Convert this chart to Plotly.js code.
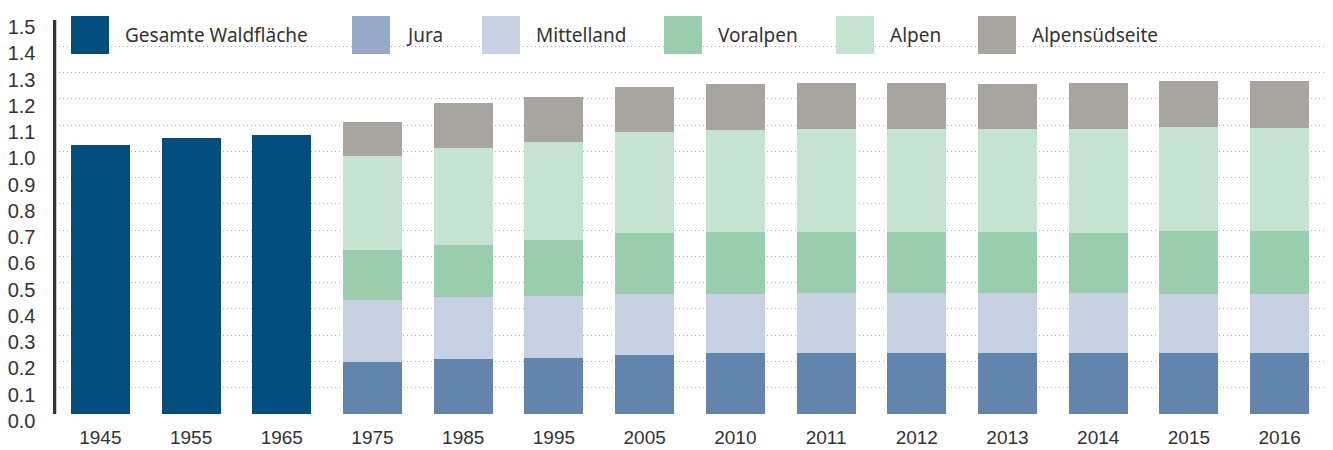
<!DOCTYPE html>
<html>
<head>
<meta charset="utf-8">
<script src="https://cdn.plot.ly/plotly-3.0.1.min.js"></script>
<style>html,body{margin:0;padding:0;background:#fff}#chart{width:1333px;height:450px}</style>
</head>
<body>
<div id="chart"></div>
<script>
// ---- data ----
const years = ["1945","1955","1965","1975","1985","1995","2005","2010","2011","2012","2013","2014","2015","2016"];
const gesamtYears = ["1945","1955","1965"];
const gesamt = [1.023, 1.051, 1.061];
const regionYears = ["1975","1985","1995","2005","2010","2011","2012","2013","2014","2015","2016"];
const jura        = [0.198, 0.210, 0.213, 0.225, 0.232, 0.232, 0.232, 0.232, 0.232, 0.232, 0.232];
const mittelland  = [0.235, 0.236, 0.237, 0.232, 0.225, 0.229, 0.229, 0.229, 0.229, 0.225, 0.225];
const voralpen    = [0.191, 0.198, 0.213, 0.233, 0.236, 0.232, 0.232, 0.232, 0.229, 0.240, 0.240];
const alpen       = [0.357, 0.369, 0.373, 0.384, 0.389, 0.393, 0.393, 0.393, 0.396, 0.396, 0.393];
const alpensued   = [0.129, 0.172, 0.172, 0.172, 0.175, 0.175, 0.175, 0.171, 0.175, 0.176, 0.179];
const seriesNames = ["Gesamte Waldfläche","Jura","Mittelland","Voralpen","Alpen","Alpensüdseite"];
const yTicks = [0,0.1,0.2,0.3,0.4,0.5,0.6,0.7,0.8,0.9,1.0,1.1,1.2,1.3,1.4,1.5];

// ---- style ----
const barColors    = ["#014d7d","#6384ad","#c8d1e3","#99cdae","#c5e3d1","#a8a5a0"];
const legendColors = ["#014d7d","#95aac8","#c8d1e3","#99cdae","#c5e3d1","#a8a5a0"];
const legendX      = [71, 352, 482, 664, 836, 978];

const W = 1333, H = 450;
const M = {l: 55, r: 8, t: 20, b: 36};
const pw = W - M.l - M.r, ph = H - M.t - M.b;
const px = x => (x - M.l) / pw;
const py = y => (H - M.b - y) / ph;

const regionValues = [jura, mittelland, voralpen, alpen, alpensued];
const traces = [{
  type: "bar", x: gesamtYears, y: gesamt, name: seriesNames[0],
  marker: {color: barColors[0]}, hoverinfo: "x+y+name"
}];
regionValues.forEach((vals, i) => {
  traces.push({
    type: "bar", x: regionYears, y: vals, name: seriesNames[i + 1],
    marker: {color: barColors[i + 1]}, hoverinfo: "x+y+name"
  });
});

const shapes = [{type: "line", xref: "paper", yref: "paper", x0: 0, x1: 0, y0: 0, y1: 1,
  line: {color: "#333", width: 2.5}, layer: "above"}];
const annotations = [];
seriesNames.forEach((n, i) => {
  shapes.push({type: "rect", xref: "paper", yref: "paper",
    x0: px(legendX[i]), x1: px(legendX[i] + 38), y0: py(54), y1: py(16),
    fillcolor: legendColors[i], line: {width: 0}, layer: "above"});
  annotations.push({xref: "paper", yref: "paper", x: px(legendX[i] + 52), y: py(35),
    xanchor: "left", yanchor: "middle", text: n, showarrow: false,
    font: {family: "Noto Sans, sans-serif", size: 19, color: "#333"}});
});

const layout = {
  width: W, height: H,
  margin: M,
  paper_bgcolor: "#fff", plot_bgcolor: "#fff",
  barmode: "stack", bargap: 0.35,
  showlegend: false,
  font: {family: "Liberation Sans, Arial, sans-serif", size: 20, color: "#333"},
  xaxis: {
    type: "category", categoryorder: "array", categoryarray: years,
    showgrid: false, showline: false, zeroline: false, ticks: "",
    ticklabelstandoff: 10,
    tickfont: {size: 19, color: "#333"}
  },
  yaxis: {
    range: [0, 1.5], tickvals: yTicks, tickformat: ".1f",
    showgrid: true, gridcolor: "#a8a8a8", gridwidth: 1, griddash: "1px,3px",
    zeroline: false, showline: true, linecolor: "#333", linewidth: 2.5,
    ticks: "", ticklabelstandoff: 13, ticklabelshift: 7,
    tickfont: {size: 20, color: "#333"}
  },
  shapes: shapes,
  annotations: annotations
};

Plotly.newPlot("chart", traces, layout, {displayModeBar: false, staticPlot: true});
</script>
</body>
</html>
